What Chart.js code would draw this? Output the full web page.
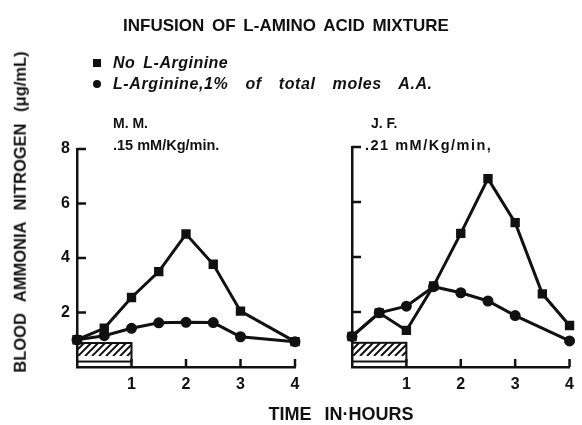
<!DOCTYPE html>
<html>
<head>
<meta charset="utf-8">
<script src="https://cdn.jsdelivr.net/npm/chart.js@4"></script>
<style>
  body { margin: 0; background: #fff; }
  #wrap { position: relative; width: 582px; height: 425px; overflow: hidden; background: #fff;
          font-family: "Liberation Sans", Arial, sans-serif; color: #111; }
  #leftBox { position: absolute; left: 0; top: 0; width: 320px; height: 425px; }
  #rightBox { position: absolute; left: 320px; top: 0; width: 262px; height: 425px; }
  .txt { position: absolute; white-space: nowrap; font-weight: bold; line-height: 1; }
  .c { transform: translate(-50%, -50%); }
  .l { transform: translate(0, -50%); }
  .mark { position: absolute; background: #111; }
</style>
</head>
<body>
<div id="wrap">
  <div id="leftBox"><canvas id="chartMM"></canvas></div>
  <div id="rightBox"><canvas id="chartJF"></canvas></div>

  <div class="txt c" style="left:286px; top:25px; font-size:17px; word-spacing:3px;">INFUSION OF L-AMINO ACID MIXTURE</div>

  <div class="mark" style="left:93px; top:59px; width:8px; height:8px;"></div>
  <div class="txt l" style="left:113px; top:63px; font-size:16px; font-style:italic; letter-spacing:0.5px; word-spacing:3px;">No L-Arginine</div>
  <div class="mark" style="left:93px; top:80px; width:8px; height:8px; border-radius:50%;"></div>
  <div class="txt l" style="left:113px; top:84px; font-size:16px; font-style:italic; letter-spacing:0.6px; word-spacing:12px;">L-Arginine,1% of total moles A.A.</div>

  <div class="txt l" style="left:113px; top:123px; font-size:14px;">M. M.</div>
  <div class="txt l" style="left:113px; top:145px; font-size:14.5px;">.15 mM/Kg/min.</div>
  <div class="txt l" style="left:371px; top:123px; font-size:14px;">J. F.</div>
  <div class="txt l" style="left:365px; top:145px; font-size:14.5px; letter-spacing:1.5px;">.21 mM/Kg/min,</div>

  <div class="txt c" style="left:20px; top:212px; font-size:16.5px; word-spacing:7px; transform: translate(-50%, -50%) rotate(-90deg);">BLOOD AMMONIA NITROGEN (μg/mL)</div>

  <div class="txt c" style="left:341px; top:414px; font-size:18px; word-spacing:8px;">TIME IN·HOURS</div>
</div>

<script>
// hours after start of infusion
const hoursMM = [0, 0.5, 1, 1.5, 2, 2.5, 3, 4];
const mmNoArginine = [1.0, 1.42, 2.55, 3.5, 4.88, 3.77, 2.05, 0.93];
const mmArginine = [1.0, 1.15, 1.42, 1.62, 1.64, 1.63, 1.11, 0.93];

const hoursJFNoArginine = [0, 0.5, 1, 1.5, 2, 2.5, 3, 3.5, 4];
const jfNoArginine = [1.11, 1.97, 1.33, 2.95, 4.86, 6.85, 5.25, 2.66, 1.51];
const hoursJFArginine = [0, 0.5, 1, 1.5, 2, 2.5, 3, 4];
const jfArginine = [1.11, 1.97, 2.21, 2.92, 2.7, 2.4, 1.87, 0.95];

const xTicks = [1, 2, 3, 4];
const yTicks = [2, 4, 6, 8];
const infusionHours = [0, 1];

const ink = "#111";

function pts(xs, ys) {
  return xs.map((x, i) => ({ x: x, y: ys[i] }));
}

// inward tick marks + hatched infusion bar
const panelMarks = {
  id: "panelMarks",
  beforeDatasetsDraw(chart) {
    const ctx = chart.ctx;
    const x = chart.scales.x;
    const y = chart.scales.y;
    const a = chart.chartArea;
    const x0 = x.getPixelForValue(infusionHours[0]);
    const x1 = x.getPixelForValue(infusionHours[1]);
    const top = y.getPixelForValue(0.88);
    const hatchBottom = y.getPixelForValue(0.4);
    const bottom = y.getPixelForValue(0.2);

    ctx.save();
    ctx.beginPath();
    ctx.rect(x0, top, x1 - x0, hatchBottom - top);
    ctx.clip();
    ctx.strokeStyle = ink;
    ctx.lineWidth = 2;
    ctx.beginPath();
    for (let k = x0 - 20; k < x1 + 20; k += 7) {
      ctx.moveTo(k, hatchBottom);
      ctx.lineTo(k + (hatchBottom - top), top);
    }
    ctx.stroke();
    ctx.restore();

    ctx.save();
    ctx.strokeStyle = ink;
    ctx.lineWidth = 2;
    ctx.strokeRect(x0, top, x1 - x0, bottom - top);

    ctx.lineWidth = 2.5;
    ctx.beginPath();
    yTicks.forEach(v => {
      const py = y.getPixelForValue(v);
      ctx.moveTo(a.left, py);
      ctx.lineTo(a.left + 9, py);
    });
    xTicks.forEach(v => {
      const px = x.getPixelForValue(v);
      ctx.moveTo(px, a.bottom);
      ctx.lineTo(px, a.bottom - 8);
    });
    ctx.stroke();
    ctx.restore();
  },
};

function makeConfig(noArg, arg, showYLabels, pad, yWidth) {
  return {
    type: "line",
    data: {
      datasets: [
        {
          label: "No L-Arginine",
          data: noArg,
          borderColor: ink,
          backgroundColor: ink,
          borderWidth: 3,
          pointStyle: "rect",
          pointRadius: 4.5,
          clip: false,
        },
        {
          label: "L-Arginine, 1% of total moles A.A.",
          data: arg,
          borderColor: ink,
          backgroundColor: ink,
          borderWidth: 3,
          pointStyle: "circle",
          pointRadius: 4,
          clip: false,
        },
      ],
    },
    options: {
      responsive: false,
      animation: false,
      layout: { padding: pad },
      plugins: {
        legend: { display: false },
        tooltip: { enabled: false },
      },
      scales: {
        x: {
          type: "linear",
          min: 0,
          max: 4,
          afterBuildTicks: s => { s.ticks = xTicks.map(v => ({ value: v })); },
          afterFit: s => { s.height = 30; },
          grid: { drawOnChartArea: false, drawTicks: false },
          border: { color: ink, width: 2.5 },
          ticks: {
            color: ink,
            padding: 8,
            maxRotation: 0,
            font: { family: "Liberation Sans", size: 16, weight: "bold" },
          },
        },
        y: {
          min: 0,
          max: 8,
          afterBuildTicks: s => { s.ticks = yTicks.map(v => ({ value: v })); },
          afterFit: s => { s.width = yWidth; },
          grid: { drawOnChartArea: false, drawTicks: false },
          border: { color: ink, width: 2.5 },
          ticks: {
            display: showYLabels,
            color: ink,
            padding: 7,
            font: { family: "Liberation Sans", size: 16, weight: "bold" },
          },
        },
      },
    },
    plugins: [panelMarks],
  };
}

const canvasMM = document.getElementById("chartMM");
canvasMM.width = 320;
canvasMM.height = 425;
const chartMM = new Chart(
  canvasMM,
  makeConfig(pts(hoursMM, mmNoArginine), pts(hoursMM, mmArginine), true,
    { top: 149, left: 47, right: 25, bottom: 28 }, 30)
);

const canvasJF = document.getElementById("chartJF");
canvasJF.width = 262;
canvasJF.height = 425;
const chartJF = new Chart(
  canvasJF,
  makeConfig(pts(hoursJFNoArginine, jfNoArginine), pts(hoursJFArginine, jfArginine), false,
    { top: 147, left: 22, right: 8, bottom: 28 }, 10)
);
</script>
</body>
</html>
